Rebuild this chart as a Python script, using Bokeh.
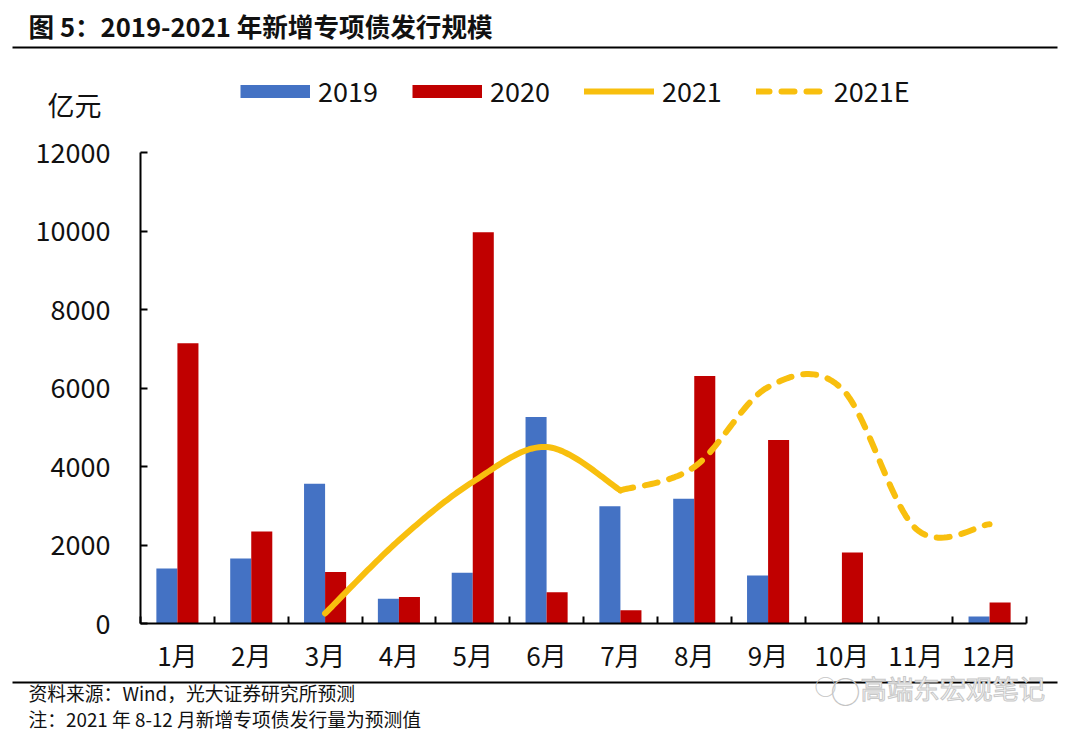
import numpy as np
from bokeh.embed import file_html
from bokeh.layouts import column
from bokeh.resources import INLINE
from bokeh.plotting import figure
from bokeh.models import Range1d, FixedTicker, Label, Legend, LegendItem

months = ["1月", "2月", "3月", "4月", "5月", "6月", "7月", "8月", "9月", "10月", "11月", "12月"]
s2019 = [1400, 1655, 3563, 628, 1290, 5260, 2986, 3181, 1221, 0, 0, 178]
s2020 = [7143, 2341, 1315, 678, 9970, 797, 339, 6303, 4675, 1807, 0, 534]
s2021 = [None, None, 255, 2120, 3606, 4497, 3393, None, None, None, None, None]
s2021E = [None, None, None, None, None, None, 3393, 3987, 6024, 5981, 2418, 2530]
y_ticks = [0, 2000, 4000, 6000, 8000, 10000, 12000]

TITLE = "图 5：2019-2021 年新增专项债发行规模"
SOURCE = "资料来源：Wind，光大证券研究所预测"
NOTE = "注：2021 年 8-12 月新增专项债发行量为预测值"
UNIT = "亿元"
WATERMARK = "高端东宏观笔记"

FONT = "Noto Sans CJK SC"
BLUE, RED, YELLOW = "#4472C4", "#C00000", "#F8BF0E"
W = 1080
TOP_H, MAIN_H = 130, 545
BOT_OVERLAP = 15
LW = 6


def smooth(values):
    """Excel-style smoothed line through the given points (drawing only)."""
    idx = [i for i, v in enumerate(values) if v is not None]
    px = [i + 0.5 for i in idx]
    py = [values[i] for i in idx]
    xs, ys = [], []
    n = len(px)
    for k in range(n - 1):
        p0 = max(k - 1, 0)
        p3 = min(k + 2, n - 1)
        c1x = px[k] + (px[k + 1] - px[p0]) / 6
        c1y = py[k] + (py[k + 1] - py[p0]) / 6
        c2x = px[k + 1] - (px[p3] - px[k]) / 6
        c2y = py[k + 1] - (py[p3] - py[k]) / 6
        t = np.linspace(0, 1, 30)
        xs += list((1-t)**3*px[k] + 3*(1-t)**2*t*c1x + 3*(1-t)*t**2*c2x + t**3*px[k+1])
        ys += list((1-t)**3*py[k] + 3*(1-t)**2*t*c1y + 3*(1-t)*t**2*c2y + t**3*py[k+1])
    return xs, ys


def strip(y0, y1, **kw):
    f = figure(width=W, height=y1 - y0, output_backend="svg", toolbar_location=None,
               x_range=Range1d(0, W), y_range=Range1d(y1, y0), x_axis_type=None, y_axis_type=None,
               min_border=0, border_fill_alpha=0, background_fill_alpha=0, outline_line_color=None,
               frame_align=False, **kw)
    f.grid.visible = False
    return f


def note(f, text, x, y, size, color="#111111", style="normal", **kw):
    f.add_layout(Label(text=text, x=x, y=y, text_font=FONT, text_font_size=size, text_color=color,
                       text_font_style=style, text_align="left", text_baseline="middle", **kw))


def rule(f, y, x0=12, x1=1057):
    f.segment(x0=[x0], y0=[y], x1=[x1], y1=[y], line_color="black", line_width=2)


# ---- top strip: title, rule, legend, unit
top = strip(0, TOP_H)
note(top, TITLE, 28, 25, "25.6px", style="bold")
rule(top, 47)
note(top, UNIT, 47, 104, "27px")
off = [-100, -90]
k19 = top.line(off, off, line_color=BLUE, line_width=13, line_cap="butt")
k20 = top.line(off, off, line_color=RED, line_width=13, line_cap="butt")
k21 = top.line(off, off, line_color=YELLOW, line_width=LW, line_cap="round")
kE = top.line(off, off, line_color=YELLOW, line_width=LW, line_cap="round", line_dash="13 12")
legend = Legend(items=[LegendItem(label="2019", renderers=[k19]), LegendItem(label="2020", renderers=[k20]),
                       LegendItem(label="2021", renderers=[k21]), LegendItem(label="2021E", renderers=[kE])],
                orientation="horizontal", location=(240, 20), glyph_width=70, glyph_height=16,
                label_standoff=8, spacing=34, padding=0, margin=0, border_line_color=None,
                background_fill_alpha=0, label_text_font=FONT, label_text_font_size="27px",
                label_text_color="#111111")
top.add_layout(legend, "center")

# ---- main chart
p = figure(width=W, height=MAIN_H, output_backend="svg", toolbar_location=None,
           x_range=Range1d(0, 12), y_range=Range1d(0, 12000),
           min_border_left=140, min_border_right=54, min_border_top=22, min_border_bottom=52,
           background_fill_color="white", border_fill_color="white", outline_line_color=None,
           frame_align=False)
p.grid.visible = False

centers = np.arange(len(months)) + 0.5
bw = 0.285
p.vbar(x=centers - bw / 2, top=s2019, width=bw, bottom=0, fill_color=BLUE, line_color=None)
p.vbar(x=centers + bw / 2, top=s2020, width=bw, bottom=0, fill_color=RED, line_color=None)
x21, y21 = smooth(s2021)
xe, ye = smooth(s2021E)
p.line(x21, y21, line_color=YELLOW, line_width=LW, line_cap="round", line_join="round")
p.line(xe, ye, line_color=YELLOW, line_width=LW, line_cap="round", line_join="round", line_dash="13 12")

xa = p.xaxis[0]
xa.ticker = FixedTicker(ticks=list(centers), minor_ticks=list(range(len(months) + 1)))
xa.major_label_overrides = {float(c): m for c, m in zip(centers, months)}
xa.major_tick_in = 0
xa.major_tick_out = 0
xa.minor_tick_in = 7
xa.minor_tick_out = 0
xa.minor_tick_line_color = "black"
xa.minor_tick_line_width = 2
xa.axis_line_color = "black"
xa.axis_line_width = 2
xa.major_label_standoff = 12
xa.major_label_text_font = FONT
xa.major_label_text_font_size = "26px"
xa.major_label_text_color = "#111111"

ya = p.yaxis[0]
ya.ticker = FixedTicker(ticks=y_ticks)
ya.major_tick_in = 7
ya.major_tick_out = 0
ya.minor_tick_in = 0
ya.minor_tick_out = 0
ya.major_tick_line_color = "black"
ya.major_tick_line_width = 2
ya.axis_line_color = "black"
ya.axis_line_width = 2
ya.major_label_standoff = 30
ya.major_label_text_font = FONT
ya.major_label_text_font_size = "27px"
ya.major_label_text_color = "#111111"
ya.major_label_text_line_height = 1.0

# ---- bottom strip: rule, source, note, watermark (overlaps the chart's bottom border)
bot = strip(TOP_H + MAIN_H - BOT_OVERLAP, 736, margin=(-BOT_OVERLAP, 0, 0, 0))
rule(bot, 682)
note(bot, SOURCE, 28, 692, "18.8px")
note(bot, NOTE, 28, 718, "18.8px")
note(bot, "○", 814, 684, "22px", color="#c4c4c4")
note(bot, "○", 830, 689, "30px", color="#c4c4c4")
note(bot, WATERMARK, 860, 687, "26.4px", color="#f6f6f6", text_outline_color="#c8c8c8")

open("out.html", "w").write(file_html(column(top, p, bot, spacing=0), INLINE))
